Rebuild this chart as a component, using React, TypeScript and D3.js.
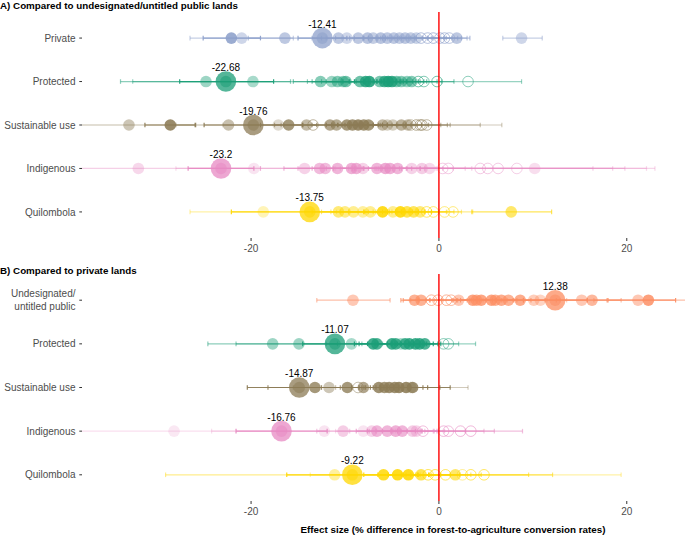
import React from 'react';
import * as d3 from 'd3';

// ---------- data ----------
const categoriesA = ['Private', 'Protected', 'Sustainable use', 'Indigenous', 'Quilombola'];
const categoriesB = ['Undesignated/\nuntitled public', 'Protected', 'Sustainable use', 'Indigenous', 'Quilombola'];
const colorsA = ['#8DA0CB', '#1B9E77', '#8C7B55', '#E78AC3', '#FFD700'];
const colorsB = ['#FC8D62', '#1B9E77', '#8C7B55', '#E78AC3', '#FFD700'];

// pooled (labelled) estimates and their intervals
const mainA = [-12.41, -22.68, -19.76, -23.2, -13.75];
const mainLoA = [-15.0, -27.6, -25.0, -26.7, -22.1];
const mainHiA = [-9.8, -17.6, -14.5, -19.7, -5.5];
const mainB = [12.38, -11.07, -14.87, -16.76, -9.22];
const mainLoB = [9.0, -14.5, -20.4, -21.6, -16.2];
const mainHiB = [15.8, -7.6, -9.3, -11.9, -2.2];

// individual estimates: [estimate, lower, upper, weight, significant]
type Est = [number, number, number, number, number];

const privateA: Est[] = [
  [-22.1, -25.1, -19.0, 0.8, 1], [-21.0, -26.5, -15.5, 0.35, 1], [-16.4, -20.3, -12.5, 0.5, 1],
  [-10.7, -13.5, -8.0, 0.5, 1], [-9.8, -12.0, -7.5, 0.35, 1], [-8.6, -11.0, -6.2, 0.5, 1],
  [-7.6, -9.5, -5.7, 0.55, 1], [-7.0, -9.0, -5.0, 0.45, 1], [-6.2, -8.0, -4.4, 0.55, 1],
  [-5.5, -7.5, -3.5, 0.5, 1], [-4.8, -6.6, -3.0, 0.5, 1], [-4.2, -6.0, -2.4, 0.45, 1],
  [-3.6, -5.5, -1.7, 0.5, 1], [-3.0, -4.8, -1.2, 0.45, 1], [-2.4, -4.2, -0.6, 0.4, 1],
  [-1.9, -4.0, 0.2, 0.45, 0], [-1.2, -3.2, 0.8, 0.45, 0], [-0.6, -2.6, 1.4, 0.5, 0],
  [0.1, -1.8, 2.0, 0.45, 0], [0.6, -1.2, 2.4, 0.45, 0], [1.1, -0.8, 3.0, 0.4, 0],
  [1.9, 0.5, 3.3, 0.5, 1], [8.8, 6.8, 11.0, 0.35, 1],
];
const protectedA: Est[] = [
  [-24.8, -33.9, -15.8, 0.35, 1], [-19.8, -32.6, -8.0, 0.3, 1], [-12.6, -15.5, -9.6, 0.45, 1],
  [-11.4, -14.0, -8.8, 0.35, 1], [-10.8, -13.5, -8.0, 0.45, 1], [-10.2, -12.5, -7.9, 0.4, 1],
  [-9.9, -12.0, -7.8, 0.5, 1], [-8.4, -10.2, -6.6, 0.55, 1], [-7.8, -9.5, -6.1, 0.75, 1],
  [-7.4, -9.0, -5.8, 0.8, 1], [-6.3, -8.0, -4.6, 0.5, 1], [-5.8, -7.5, -4.1, 0.7, 1],
  [-5.4, -7.0, -3.8, 0.8, 1], [-5.0, -6.6, -3.4, 0.75, 1], [-4.5, -6.2, -2.8, 0.5, 1],
  [-4.0, -5.8, -2.2, 0.45, 1], [-3.4, -5.2, -1.6, 0.4, 1], [-2.9, -4.5, -1.3, 0.45, 1],
  [-2.2, -4.2, -0.2, 0.4, 0], [-1.6, -3.5, 0.3, 0.35, 0], [-0.2, -2.0, 1.6, 0.4, 0],
  [3.1, -2.5, 8.8, 0.3, 0],
];
const sustainableA: Est[] = [
  [-33.0, -40.0, -26.0, 0.35, 1], [-28.6, -31.3, -25.9, 0.8, 1], [-22.4, -28.0, -16.8, 0.4, 1],
  [-17.1, -23.0, -11.2, 0.2, 1], [-16.0, -19.0, -13.0, 0.7, 1], [-14.1, -17.5, -10.7, 0.45, 1],
  [-13.4, -16.5, -10.3, 0.35, 0], [-11.6, -14.5, -8.7, 0.6, 1], [-10.9, -13.5, -8.3, 0.55, 1],
  [-9.8, -12.0, -7.6, 0.7, 1], [-9.2, -11.4, -7.0, 0.75, 1], [-8.6, -10.8, -6.4, 0.8, 1],
  [-8.0, -10.0, -6.0, 0.75, 1], [-7.5, -9.5, -5.5, 0.7, 1], [-6.0, -8.5, -3.5, 0.45, 1],
  [-5.5, -8.0, -3.0, 0.3, 1], [-4.9, -7.5, -2.3, 0.3, 1], [-4.0, -6.2, -1.8, 0.5, 1],
  [-3.3, -5.5, -1.1, 0.45, 1], [-2.4, -5.0, 0.2, 0.4, 0], [-1.8, -4.5, 0.9, 0.4, 0],
  [-1.3, -3.8, 1.2, 0.35, 0], [-2.0, -7.0, 4.4, 0.3, 0], [-3.0, -12.0, 6.7, 0.25, 0],
];
const indigenousA: Est[] = [
  [-32.0, -45.0, -19.0, 0.25, 1], [-19.7, -28.0, -11.0, 0.15, 1], [-14.3, -19.0, -9.6, 0.3, 1],
  [-12.7, -16.5, -8.9, 0.5, 1], [-12.1, -15.0, -9.2, 0.5, 1], [-10.8, -13.5, -8.1, 0.55, 1],
  [-9.3, -12.0, -6.6, 0.6, 1], [-8.8, -11.2, -6.4, 0.6, 1], [-8.1, -10.5, -5.7, 0.3, 1],
  [-6.6, -9.0, -4.2, 0.55, 1], [-5.7, -8.0, -3.4, 0.65, 1], [-5.2, -7.5, -2.9, 0.6, 1],
  [-4.4, -6.8, -2.0, 0.55, 1], [-2.9, -5.5, -0.3, 0.3, 1], [-1.8, -4.0, 0.4, 0.35, 1],
  [-1.0, -3.5, 1.5, 0.25, 1], [0.4, -2.0, 2.8, 0.25, 0], [1.0, -1.5, 3.5, 0.25, 0],
  [4.4, -8.0, 16.4, 0.25, 0], [5.2, -6.0, 18.5, 0.25, 0], [6.3, -5.0, 19.8, 0.25, 0],
  [8.3, -4.0, 22.1, 0.2, 0], [10.2, -2.0, 23.0, 0.2, 1],
];
const quilombolaA: Est[] = [
  [-18.7, -26.5, -10.9, 0.2, 1], [-10.7, -13.5, -7.9, 0.45, 1], [-10.0, -12.5, -7.5, 0.4, 1],
  [-9.1, -11.5, -6.7, 0.35, 1], [-8.1, -10.5, -5.7, 0.3, 1], [-7.3, -9.6, -5.0, 0.35, 1],
  [-6.0, -8.0, -4.0, 0.8, 1], [-4.9, -7.0, -2.8, 0.35, 1], [-4.1, -6.0, -2.2, 0.8, 1],
  [-3.4, -5.3, -1.5, 0.6, 1], [-2.7, -4.6, -0.8, 0.55, 1], [-2.0, -4.0, 0.0, 0.45, 1],
  [-1.3, -3.4, 0.8, 0.4, 0], [-0.6, -2.8, 1.6, 0.35, 0], [0.6, -1.5, 2.4, 0.3, 0],
  [1.5, -0.8, 3.6, 0.3, 0], [7.7, 3.5, 12.0, 0.5, 1],
];

const undesignatedB: Est[] = [
  [-9.15, -13.0, -5.2, 0.4, 1], [-2.6, -4.05, -1.0, 0.6, 1], [-1.9, -3.8, 0.3, 0.6, 1],
  [-0.8, -3.0, 1.4, 0.45, 0], [-0.1, -2.2, 2.0, 0.45, 0], [0.8, -1.4, 3.0, 0.45, 0],
  [1.3, -0.9, 3.5, 0.4, 0], [2.1, -0.5, 4.7, 0.4, 1], [3.6, 1.5, 5.7, 0.7, 1],
  [4.0, 1.9, 6.1, 0.6, 1], [4.5, 2.3, 6.7, 0.7, 1], [5.6, 3.3, 7.9, 0.7, 1],
  [6.0, 3.7, 8.3, 0.6, 1], [6.65, 4.3, 9.0, 0.65, 1], [7.4, 5.0, 9.8, 0.6, 1],
  [8.65, 6.0, 11.3, 0.65, 1], [10.1, 7.3, 12.9, 0.35, 1], [10.8, 8.0, 13.6, 0.3, 1],
  [15.2, 11.5, 19.4, 0.4, 1], [16.3, 12.5, 17.9, 0.55, 1], [21.2, 16.5, 26.5, 0.4, 1],
  [22.3, 18.0, 25.2, 0.75, 1],
];
const protectedB: Est[] = [
  [-17.7, -24.6, -10.8, 0.35, 1], [-14.9, -21.6, -8.2, 0.35, 1], [-9.3, -12.0, -6.6, 0.3, 1],
  [-7.0, -9.0, -5.0, 0.75, 1], [-6.6, -8.5, -4.7, 0.7, 1], [-5.0, -6.8, -3.2, 0.75, 1],
  [-4.6, -6.5, -2.7, 0.7, 1], [-4.05, -6.0, -2.1, 0.3, 1], [-3.6, -5.5, -1.7, 0.7, 1],
  [-3.15, -5.0, -1.3, 0.75, 1], [-2.5, -4.4, -0.6, 0.75, 1], [-2.06, -4.0, -0.1, 0.75, 1],
  [-1.5, -3.2, 0.2, 0.7, 1], [0.5, -1.4, 2.1, 0.3, 0], [1.0, -1.5, 3.9, 0.3, 0],
];
const sustainableB: Est[] = [
  [-13.2, -18.2, -8.2, 0.7, 1], [-11.7, -15.5, -7.9, 0.35, 1], [-9.75, -12.5, -7.0, 0.7, 1],
  [-8.6, -11.0, -6.2, 0.3, 0], [-8.05, -10.5, -5.6, 0.6, 1], [-6.4, -8.5, -4.3, 0.75, 1],
  [-5.8, -7.8, -3.8, 0.7, 1], [-5.3, -7.3, -3.3, 0.75, 1], [-4.7, -6.7, -1.7, 0.75, 1],
  [-4.25, -6.2, -1.2, 0.8, 1], [-3.5, -5.5, 0.1, 0.8, 1], [-2.8, -4.8, 1.2, 0.75, 1],
  [-3.0, -8.0, 3.1, 0.25, 1],
];
const indigenousB: Est[] = [
  [-28.2, -40.0, -16.2, 0.12, 1], [-12.2, -24.2, -0.2, 0.15, 1], [-10.2, -13.0, -7.4, 0.35, 1],
  [-8.05, -11.0, -5.1, 0.15, 1], [-7.15, -9.5, -4.8, 0.3, 1], [-6.6, -8.8, -4.4, 0.55, 1],
  [-5.5, -7.6, -3.4, 0.55, 1], [-4.6, -6.7, -2.5, 0.6, 1], [-3.9, -6.0, -1.8, 0.55, 1],
  [-2.8, -5.0, -0.6, 0.35, 1], [-2.4, -4.6, -0.2, 0.3, 1], [-1.7, -4.0, 0.6, 0.35, 0],
  [0.5, -1.8, 2.8, 0.4, 0], [1.0, -1.5, 4.8, 0.35, 0], [2.3, -0.5, 5.9, 0.4, 0],
  [3.4, -2.0, 8.9, 0.4, 0],
];
const quilombolaB: Est[] = [
  [-11.1, -29.1, -0.8, 0.3, 1], [-5.9, -8.0, -3.8, 0.75, 1], [-4.4, -6.5, -2.3, 0.8, 1],
  [-3.25, -5.4, -1.1, 0.8, 1], [-1.9, -4.0, 0.2, 0.6, 1], [-1.15, -3.5, 1.2, 0.45, 0],
  [-0.4, -3.0, 2.2, 0.45, 0], [0.7, -2.0, 3.4, 0.4, 0], [1.75, -1.0, 4.5, 0.5, 1],
  [3.4, -3.0, 9.55, 0.4, 0], [4.8, -2.5, 12.1, 0.4, 0], [2.5, -13.7, 19.4, 0.2, 0],
];

const studiesA = [privateA, protectedA, sustainableA, indigenousA, quilombolaA];
const studiesB = [undesignatedB, protectedB, sustainableB, indigenousB, quilombolaB];

const xTicks = [-20, 0, 20];
const titleA = 'A) Compared to undesignated/untitled public lands';
const titleB = 'B) Compared to private lands';
const xTitle = 'Effect size (% difference in forest-to-agriculture conversion rates)';

// ---------- layout ----------
const W = 685;
const H = 535;
const FONT = '"Liberation Sans", Arial, Helvetica, sans-serif';
const x = d3.scaleLinear().domain([-38, 26.2]).range([82, 685]);

type PanelProps = {
  id: string;
  top: number;
  bottom: number;
  cats: string[];
  colors: string[];
  studies: Est[][];
  main: number[];
  mainLo: number[];
  mainHi: number[];
};

function Panel({ id, top, bottom, cats, colors, studies, main, mainLo, mainHi }: PanelProps) {
  const y = d3.scalePoint<string>().domain(cats).range([top, bottom]).padding(0.6);
  const r = 5.8;
  const capH = 2.3;
  return (
    <g>
      <defs>
        <clipPath id={id}>
          <rect x={x.range()[0]} y={top} width={x.range()[1] - x.range()[0]} height={bottom - top} />
        </clipPath>
      </defs>
      <g clipPath={`url(#${id})`}>
        {cats.map((c, i) => {
          const yy = y(c) as number;
          const col = colors[i];
          const rows: Est[] = [...studies[i], [main[i], mainLo[i], mainHi[i], 0.8, 1]];
          return (
            <g key={'w' + i}>
              {rows.map((d, j) => (
                <g key={j} stroke={col} strokeOpacity={Math.min(1, d[3] + 0.15)} strokeWidth={1.2}>
                  <line x1={x(d[1])} x2={x(d[2])} y1={yy} y2={yy} />
                  <line x1={x(d[1])} x2={x(d[1])} y1={yy - capH} y2={yy + capH} />
                  <line x1={x(d[2])} x2={x(d[2])} y1={yy - capH} y2={yy + capH} />
                </g>
              ))}
            </g>
          );
        })}
        {cats.map((c, i) => {
          const yy = y(c) as number;
          const col = colors[i];
          return (
            <g key={'p' + i}>
              {studies[i].map((d, j) =>
                d[4] ? (
                  <circle key={j} cx={x(d[0])} cy={yy} r={r} fill={col} fillOpacity={Math.min(1, d[3] + 0.08)} />
                ) : (
                  <circle key={j} cx={x(d[0])} cy={yy} r={r - 0.5} fill="none" stroke={col}
                    strokeOpacity={Math.min(1, d[3] + 0.2)} strokeWidth={1} />
                )
              )}
              <circle cx={x(main[i])} cy={yy} r={10.3} fill={col} fillOpacity={0.75} />
              <circle cx={x(main[i])} cy={yy} r={r} fill={col} fillOpacity={0.55} />
            </g>
          );
        })}
      </g>
      {cats.map((c, i) => {
        const yy = y(c) as number;
        return (
          <text key={'l' + i} x={x(main[i])} y={yy - 10.5} textAnchor="middle" fontSize={10}
            fontFamily={FONT} fill="#000">
            {String(main[i])}
          </text>
        );
      })}
      {/* y axis */}
      {cats.map((c, i) => {
        const yy = y(c) as number;
        const lines = c.split('\n');
        return (
          <g key={'y' + i}>
            <line x1={79.3} x2={82} y1={yy} y2={yy} stroke="#333" strokeWidth={1} />
            <text x={75.5} y={yy + 3.6 - (lines.length - 1) * 6.5} textAnchor="end" fontSize={10}
              fontFamily={FONT} fill="#4D4D4D">
              {lines.map((t, k) => (
                <tspan key={k} x={75.5} dy={k === 0 ? 0 : 13}>{t}</tspan>
              ))}
            </text>
          </g>
        );
      })}
      {/* zero line */}
      <line x1={x(0)} x2={x(0)} y1={top} y2={bottom} stroke="#FF0000" strokeWidth={1.4} />
      {/* x axis */}
      {xTicks.map((t) => (
        <g key={'x' + t}>
          <line x1={x(t)} x2={x(t)} y1={bottom} y2={bottom + 3} stroke="#333" strokeWidth={1} />
          <text x={x(t)} y={bottom + 13.5} textAnchor="middle" fontSize={10} fontFamily={FONT} fill="#4D4D4D">
            {String(t)}
          </text>
        </g>
      ))}
    </g>
  );
}

export default function App() {
  return (
    <svg width={W} height={H} style={{ position: 'absolute', left: 0, top: 0, background: '#fff' }}
      xmlns="http://www.w3.org/2000/svg">
      <rect width={W} height={H} fill="#fff" />
      <text x={0} y={9} fontSize={9.8} fontWeight="bold" fontFamily={FONT} fill="#000">{titleA}</text>
      <Panel id="clipA" top={12} bottom={238} cats={categoriesA} colors={colorsA} studies={studiesA}
        main={mainA} mainLo={mainLoA} mainHi={mainHiA} />
      <text x={0} y={274} fontSize={9.8} fontWeight="bold" fontFamily={FONT} fill="#000">{titleB}</text>
      <Panel id="clipB" top={274} bottom={501} cats={categoriesB} colors={colorsB} studies={studiesB}
        main={mainB} mainLo={mainLoB} mainHi={mainHiB} />
      <text x={453} y={533} textAnchor="middle" fontSize={9.8} fontWeight="bold" fontFamily={FONT} fill="#000">
        {xTitle}
      </text>
    </svg>
  );
}
